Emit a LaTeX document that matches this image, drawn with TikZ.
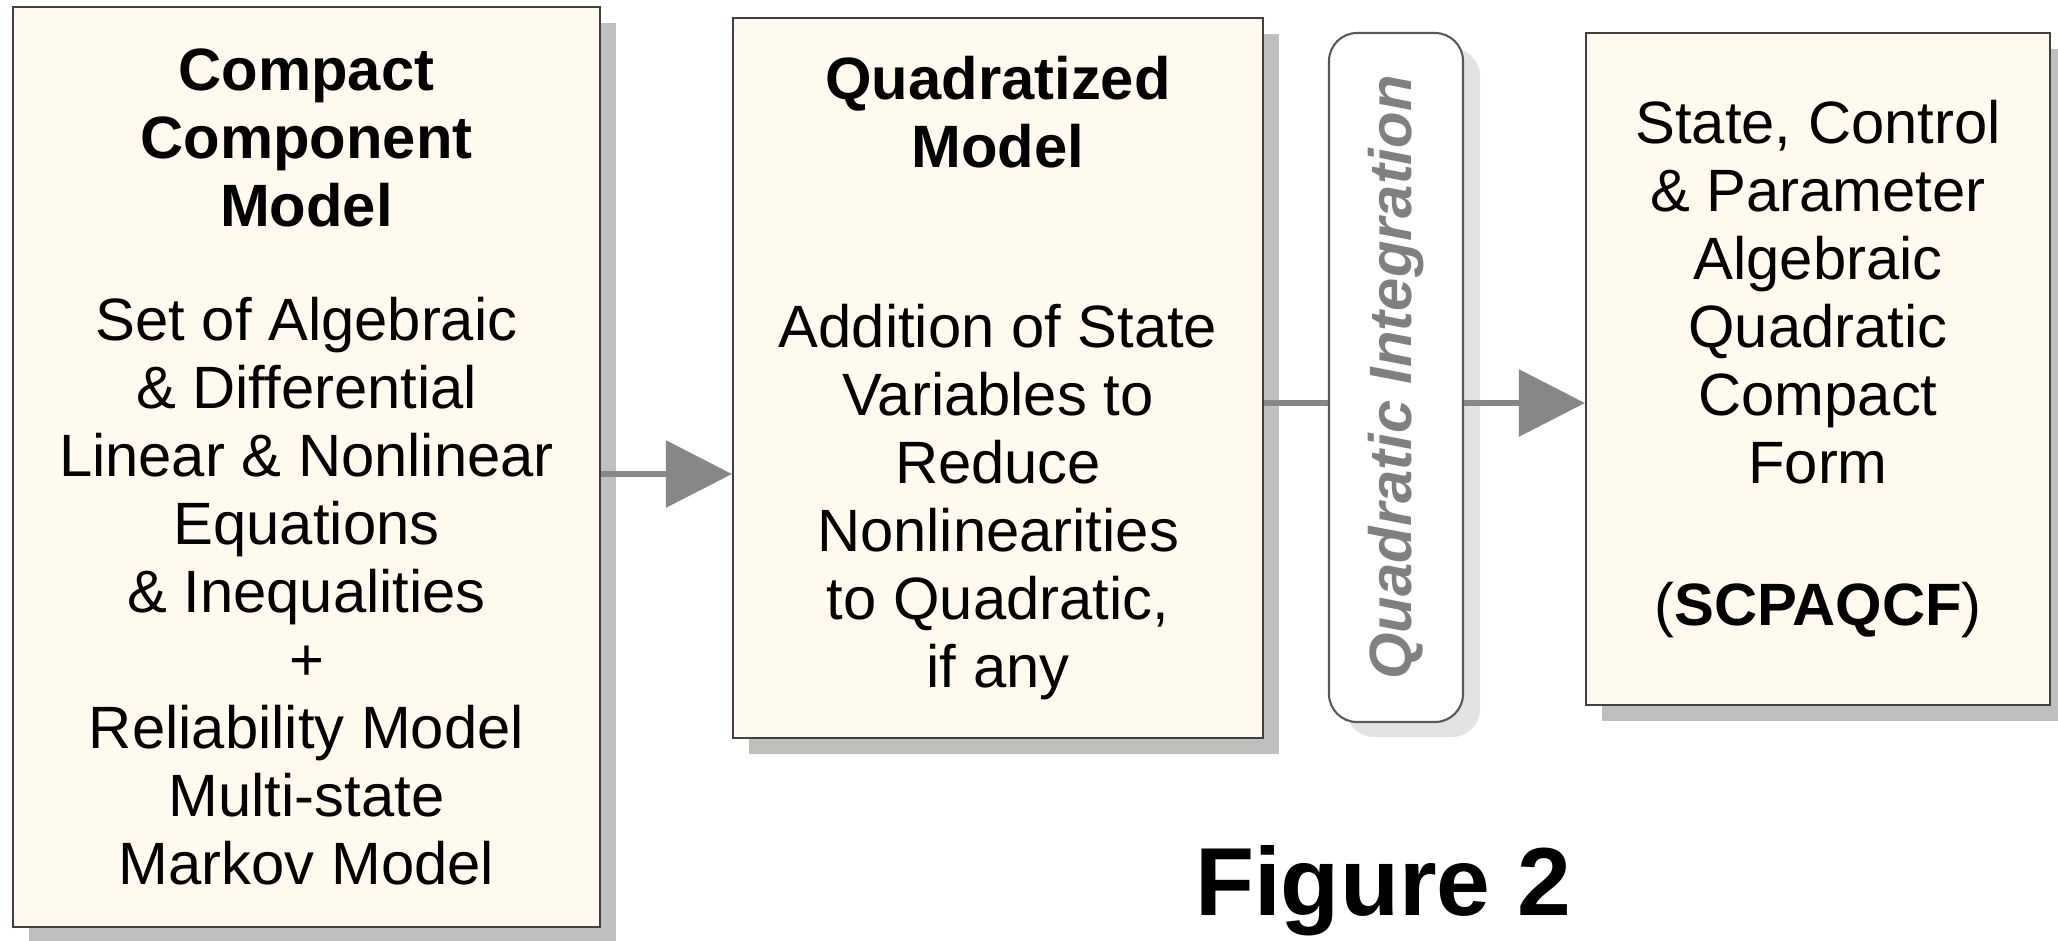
\documentclass[tikz,border=0pt]{standalone}
\usepackage{fontspec}
\setmainfont{Liberation Sans}
\usepackage{xcolor}
\usepackage{tikz}
\usetikzlibrary{positioning,calc,shadows,arrows.meta}

\definecolor{boxfill}{HTML}{FFF9EE}
\definecolor{shadowgray}{HTML}{BFBFBF}
\definecolor{lightshadow}{HTML}{E3E3E3}
\definecolor{linegray}{HTML}{878787}
\definecolor{labelgray}{HTML}{808080}

\tikzset{
  modelbox/.style={draw=black!75, line width=0.6pt, fill=boxfill, align=center, inner sep=0pt,
    font=\fontsize{17}{19.35}\selectfont,
    copy shadow={shadow xshift=0.16cm, shadow yshift=-0.16cm, draw=none, fill=shadowgray}},
  stagebox/.style={draw=black!65, line width=0.6pt, fill=white, rounded corners=0.28cm, inner sep=0pt,
    copy shadow={shadow xshift=0.17cm, shadow yshift=-0.15cm, draw=none, fill=lightshadow}},
  stagelabel/.style={text=labelgray, font=\fontsize{17}{19}\selectfont\bfseries\itshape, inner sep=0pt},
  flowline/.style={draw=linegray, line width=1.7pt},
  flowarrow/.style={flowline, -{Triangle[length=0.66cm,width=0.66cm]}},
}

\begin{document}
\begin{tikzpicture}
\useasboundingbox (0,0) rectangle (20.58,-9.40);

% the four stages, left to right
\node[modelbox, minimum width=5.87cm, minimum height=9.20cm] (ccm) at (3.065,-4.67) {
  \textbf{Compact}\\ \textbf{Component}\\ \textbf{Model}\\[13pt]
  Set of Algebraic\\ \& Differential\\ Linear \& Nonlinear\\ Equations\\
  \& Inequalities\\ +\\ Reliability Model\\ Multi-state\\ Markov Model};

\node[modelbox, minimum width=5.30cm, minimum height=7.20cm] (qmodel) at (9.98,-3.78) {
  \textbf{Quadratized}\\ \textbf{Model}\\[32pt]
  Addition of State\\ Variables to\\ Reduce\\ Nonlinearities\\ to Quadratic,\\ if any};

\node[stagebox, minimum width=1.34cm, minimum height=6.89cm] (qint) at (13.96,-3.775) {};
\node[stagelabel, rotate=90] (qtxt) at (qint.center) {Quadratic Integration};

\node[modelbox, minimum width=4.64cm, minimum height=6.72cm] (scpaqcf) at (18.18,-3.69) {
  State, Control\\ \& Parameter\\ Algebraic\\ Quadratic\\ Compact\\ Form\\[21pt]
  (\textbf{SCPAQCF})};

\node[anchor=base, inner sep=0pt, font=\fontsize{27.5}{30}\selectfont\bfseries] (figlbl) at (13.83,-9.15) {Figure 2};

% connectors
\coordinate (lvl1) at (0,-4.74);
\coordinate (lvl2) at (0,-4.03);
\draw[flowarrow] (ccm.east |- lvl1) -- (qmodel.west |- lvl1);
\draw[flowline] (qmodel.east |- lvl2) -- (qint.west |- lvl2);
\draw[flowarrow] (qint.east |- lvl2) -- (scpaqcf.west |- lvl2);
\end{tikzpicture}
\end{document}
